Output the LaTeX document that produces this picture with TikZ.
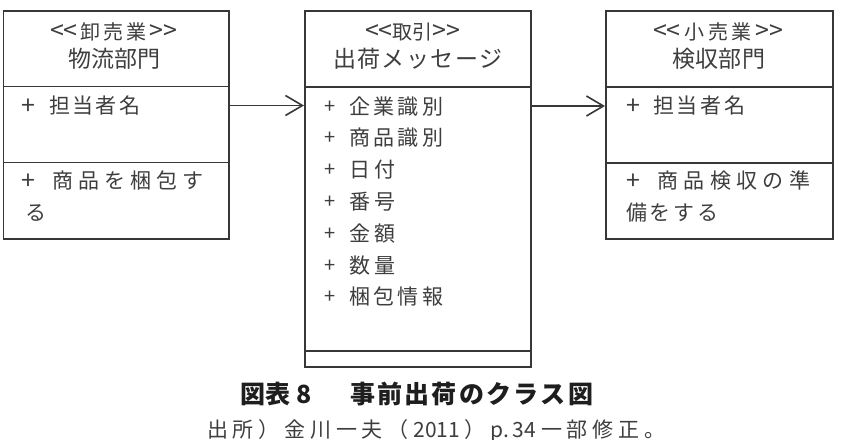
\documentclass[tikz,border=0pt]{standalone}
\usepackage{fontspec}
\setmainfont{Noto Sans CJK JP}[Ligatures=TeXOff]
\usetikzlibrary{arrows.meta}

\definecolor{inkline}{RGB}{55,55,55}
\definecolor{inktext}{RGB}{62,62,62}
\definecolor{inkcap}{RGB}{30,30,30}

% Spread the items of #2 evenly over a box of width #1
\makeatletter
\newcommand\spreadtext[2]{%
  \makebox[#1][s]{\let\spr@sep\relax
    \@tfor\spr@c:=#2\do{\spr@sep\spr@c\def\spr@sep{\hfill}}}}
\makeatother
% larger angle brackets around a stereotype
\newcommand\stbr[1]{{\fontsize{25pt}{25pt}\selectfont #1}}

\tikzset{
  classbox/.style={draw=inkline, line width=1.5pt, rectangle, inner sep=0pt,
    anchor=north west, fill=white},
  compsep/.style={draw=inkline, line width=1.9pt},
  txt/.style={inner sep=0pt, text=inktext},
  stereo/.style={txt, text height=16.7pt, text depth=2.3pt,
    font=\fontsize{20pt}{22pt}\selectfont},
  cname/.style={txt, text height=20.2pt, text depth=2.8pt,
    font=\fontsize{23pt}{25pt}\selectfont},
  attr/.style={txt, anchor=west, text height=18.5pt, text depth=2.5pt,
    font=\fontsize{21pt}{23pt}\selectfont},
  plusbig/.style={txt, text height=22pt, text depth=3pt,
    font=\fontsize{25pt}{27pt}\selectfont},
  plussmall/.style={txt, text height=17.6pt, text depth=2.4pt,
    font=\fontsize{20pt}{22pt}\selectfont},
  assoc/.style={draw=inkline, line width=1.6pt,
    -{Straight Barb[length=17pt,width=20pt,line width=1.6pt]}},
}

\begin{document}
\begin{tikzpicture}[x=1pt,y=-1pt]
\useasboundingbox (0,0) rectangle (842,439);

% ---- class: wholesaler / logistics ----
\node[classbox, minimum width=225.5pt, minimum height=228pt] (lbox) at (2.5,10) {};
\draw[compsep] ([yshift=-76.5pt]lbox.north west) -- ([yshift=-76.5pt]lbox.north east);
\draw[compsep] ([yshift=-152.5pt]lbox.north west) -- ([yshift=-152.5pt]lbox.north east);
\node[stereo] (lst) at (113.5,32.5) {\spreadtext{127pt}{{\stbr{<<}}卸売業{\stbr{>>}}}};
\node[cname] (lname) at (114,58.5) {\spreadtext{92pt}{物流部門}};
\node[plusbig] (lp1) at (28.5,105) {+};
\node[attr] (la1) at (49,105.5) {\spreadtext{91pt}{担当者名}};
\node[plusbig] (lp2) at (28.5,180) {+};
\node[attr] (lo1) at (52,180.5) {\spreadtext{151pt}{商品を梱包す}};
\node[attr] (lo2) at (25,212) {る};

% ---- class: transaction / shipping message ----
\node[classbox, minimum width=226pt, minimum height=356pt] (mbox) at (304,10) {};
\draw[compsep] ([yshift=-77pt]mbox.north west) -- ([yshift=-77pt]mbox.north east);
\draw[compsep] ([yshift=-341pt]mbox.north west) -- ([yshift=-341pt]mbox.north east);
\node[stereo] (mst) at (412.5,32.5) {\spreadtext{95pt}{{\stbr{<<}}取引{\stbr{>>}}}};
\node[cname] (mname) at (418,59) {\spreadtext{170pt}{出荷メッセージ}};
\node[plussmall] (mp1) at (330,105.5) {+};
\node[attr] (ma1) at (349,106) {\spreadtext{94pt}{企業識別}};
\node[plussmall] (mp2) at (330,137) {+};
\node[attr] (ma2) at (349,137.5) {\spreadtext{94pt}{商品識別}};
\node[plussmall] (mp3) at (330,169) {+};
\node[attr] (ma3) at (349,169.5) {\spreadtext{46pt}{日付}};
\node[plussmall] (mp4) at (330,201) {+};
\node[attr] (ma4) at (349,201.5) {\spreadtext{46pt}{番号}};
\node[plussmall] (mp5) at (330,232.5) {+};
\node[attr] (ma5) at (349,233) {\spreadtext{46pt}{金額}};
\node[plussmall] (mp6) at (330,264.5) {+};
\node[attr] (ma6) at (349,265) {\spreadtext{46pt}{数量}};
\node[plussmall] (mp7) at (330,296) {+};
\node[attr] (ma7) at (349,296.5) {\spreadtext{94pt}{梱包情報}};

% ---- class: retailer / inspection ----
\node[classbox, minimum width=227pt, minimum height=228pt] (rbox) at (605,10) {};
\draw[compsep] ([yshift=-77pt]rbox.north west) -- ([yshift=-77pt]rbox.north east);
\draw[compsep] ([yshift=-153pt]rbox.north west) -- ([yshift=-153pt]rbox.north east);
\node[stereo] (rst) at (718,32.5) {\spreadtext{130pt}{{\stbr{<<}}小売業{\stbr{>>}}}};
\node[cname] (rname) at (718.5,58.5) {\spreadtext{93pt}{検収部門}};
\node[plusbig] (rp1) at (633,105) {+};
\node[attr] (ra1) at (653,105.5) {\spreadtext{92pt}{担当者名}};
\node[plusbig] (rp2) at (633,180) {+};
\node[attr] (ro1) at (657,180.5) {\spreadtext{153pt}{商品検収の準}};
\node[attr] (ro2) at (626,212) {\spreadtext{92pt}{備をする}};

% ---- associations ----
\draw[assoc] (la1 -| lbox.east) -- (la1 -| mbox.west);
\draw[assoc] (ma1 -| mbox.east) -- (ma1 -| rbox.west);

% ---- caption and source ----
\node[inner sep=0pt, anchor=west, text=inkcap,
      font=\fontsize{25pt}{27pt}\selectfont\bfseries] (cap) at (240,394)
  {\spreadtext{72pt}{{図表}8}\hspace{38pt}\spreadtext{243pt}{事前出荷のクラス図}};
\node[inner sep=0pt, anchor=west, text=inktext,
      font=\fontsize{21pt}{23pt}\selectfont] (src) at (207,431)
  {\spreadtext{458pt}{出所）金川一夫（{2011}）{p.\,34}一部修正。}};
\end{tikzpicture}
\end{document}
